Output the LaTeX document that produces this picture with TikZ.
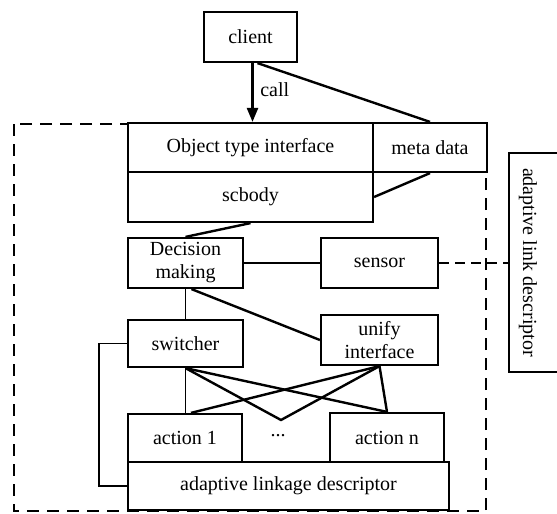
\documentclass[tikz,border=0pt]{standalone}
\usepackage{fontspec}
\setmainfont{Liberation Serif}
\usetikzlibrary{arrows.meta,calc}

\begin{document}
\begin{tikzpicture}[x=0.5pt,y=-0.5pt,every node/.style={font=\fontsize{10}{11.5}\selectfont},
box/.style={draw,line width=1.1pt,fill=white,inner sep=0pt,align=center},
link/.style={line width=1.2pt},thinlink/.style={line width=0.9pt}]
\useasboundingbox (0,0) rectangle (557,514);
\clip (0,0) rectangle (557,514);
\draw[line width=1.1pt,dash pattern=on 6pt off 4pt] (14,124) rectangle (486,511);
\node[box,minimum width=46.5pt,minimum height=25pt] (client) at (250.5,37) {client};
\node[box,minimum width=122.5pt,minimum height=24.5pt] (oti) at (250.5,147.5) {Object type interface};
\node[box,minimum width=57pt,minimum height=24.5pt] (meta) at (430,147.5) {meta data};
\node[box,minimum width=122.5pt,minimum height=25pt] (scbody) at (250.5,197) {scbody};
\node[box,minimum width=57.5pt,minimum height=25pt] (decision) at (185.5,263) {Decision\\making};
\node[box,minimum width=58.5pt,minimum height=25pt] (sensor) at (379.5,263) {sensor};
\node[box,minimum width=57.5pt,minimum height=23.5pt] (switcher) at (185.5,343.5) {switcher};
\node[box,minimum width=58.5pt,minimum height=25pt] (unify) at (379.5,340) {unify\\interface};
\node[box,minimum width=57pt,minimum height=24pt] (action1) at (185,438) {action 1};
\node (dots) at (278,436) {...};
\node[box,minimum width=57pt,minimum height=24.5pt] (actionn) at (387,437.5) {action n};
\node[box,minimum width=160.5pt,minimum height=24pt] (ald) at (288.5,486) {adaptive linkage descriptor};
\node[box,minimum width=50pt,minimum height=109.5pt] (ldesc) at (559,262.5) {};
\node[rotate=-90] (ldesctxt) at (528,262.5) {adaptive link descriptor};
\coordinate (join) at (281,420);

\draw[link,-{Triangle[length=7pt,width=5.5pt]}] ([xshift=1pt]client.south) -- node[right,pos=0.45] {call} ([xshift=1pt]client.south |- oti.north);
\draw[link] ([xshift=3.5pt]client.south) -- (meta.north);
\draw[link] (scbody.east) -- (meta.south);
\draw[link] (scbody.south) -- (decision.north);
\draw[thinlink] (decision.east) -- (sensor.west);
\draw[link,dash pattern=on 5pt off 3pt] (sensor.east) -- (sensor.east -| ldesc.west);
\draw[thinlink] (decision.south) -- (switcher.north);
\draw[link] ([xshift=3pt]decision.south) -- (unify.west);
\draw[thinlink] (switcher.west) -- ++(-28,0) |- (ald.west);
\draw[thinlink] (switcher.south) -- (switcher.south |- action1.north);
\draw[link] (switcher.south) -- (actionn.north);
\draw[link] (switcher.south) -- (join) -- (unify.south);
\draw[link] ([xshift=3pt]action1.north) -- (unify.south);
\draw[link] (unify.south) -- (actionn.north);
\end{tikzpicture}
\end{document}
